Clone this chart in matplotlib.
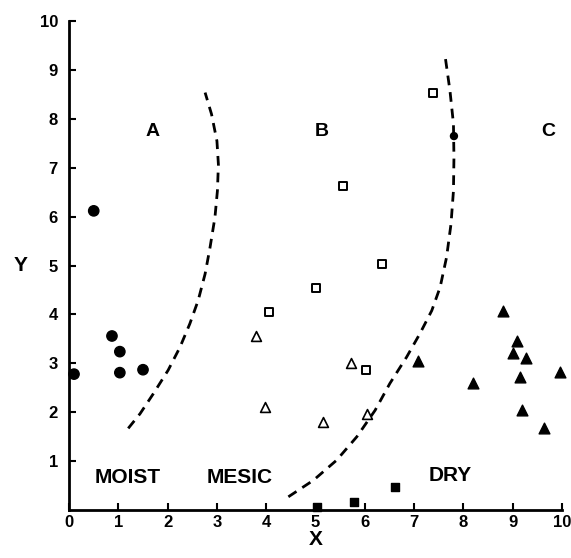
import numpy as np
import matplotlib.pyplot as plt

plt.rcParams['font.family'] = ['Liberation Sans', 'DejaVu Sans']
plt.rcParams['font.weight'] = 'bold'

# moist sites (filled circles)
moist_x = [0.1, 0.5, 0.87, 1.03, 1.03, 1.5, 7.81]
moist_y = [2.78, 6.12, 3.56, 3.24, 2.81, 2.87, 7.65]
# open squares
osq_x = [7.39, 5.56, 6.36, 5.01, 4.06, 6.02]
osq_y = [8.54, 6.63, 5.03, 4.54, 4.05, 2.86]
# open triangles
otri_x = [3.79, 3.98, 5.72, 5.15, 6.05]
otri_y = [3.57, 2.11, 3.0, 1.80, 1.97]
# filled triangles
ftri_x = [7.09, 8.2, 8.8, 9.09, 9.01, 9.27, 9.16, 9.19, 9.64, 9.96]
ftri_y = [3.05, 2.6, 4.08, 3.46, 3.21, 3.11, 2.73, 2.05, 1.67, 2.82]
# filled squares
fsq_x = [5.04, 5.78, 6.61]
fsq_y = [0.07, 0.17, 0.48]

# boundary curves
bA_x = [1.2, 1.44, 1.71, 2.01, 2.25, 2.45, 2.62, 2.76, 2.86, 2.96, 3.01, 3.03, 3.0, 2.89, 2.76]
bA_y = [1.67, 1.97, 2.38, 2.86, 3.33, 3.81, 4.29, 4.83, 5.37, 5.99, 6.53, 7.07, 7.55, 8.10, 8.54]
bB_x = [4.45, 4.96, 5.43, 5.84, 6.21, 6.51, 6.85, 7.12, 7.36, 7.53, 7.66, 7.75, 7.8, 7.81, 7.8, 7.73, 7.63]
bB_y = [0.27, 0.61, 1.02, 1.50, 2.04, 2.59, 3.13, 3.61, 4.08, 4.56, 5.17, 5.85, 6.53, 7.21, 7.90, 8.57, 9.29]

fig = plt.figure(figsize=(5.71, 5.58), dpi=100)
ax = fig.add_axes([0.121, 0.086, 0.863, 0.876])

ax.plot(bA_x, bA_y, color='black', lw=2, ls=(0, (3.5, 2.5)))
ax.plot(bB_x, bB_y, color='black', lw=2, ls=(0, (3.5, 2.5)))

ax.scatter(moist_x, moist_y, s=[55, 55, 55, 55, 55, 55, 25], marker='o', color='black', zorder=3, clip_on=False)
ax.scatter(osq_x, osq_y, s=35, marker='s', facecolor='white', edgecolor='black', linewidth=1.4, zorder=3)
ax.scatter(otri_x, otri_y, s=50, marker='^', facecolor='white', edgecolor='black', linewidth=1.2, zorder=3)
ax.scatter(ftri_x, ftri_y, s=60, marker='^', color='black', zorder=3, clip_on=False)
ax.scatter(fsq_x, fsq_y, s=40, marker='s', color='black', zorder=3, clip_on=False)

ax.text(1.7, 7.75, 'A', fontsize=14, ha='center', va='center', fontweight='bold')
ax.text(5.13, 7.75, 'B', fontsize=14, ha='center', va='center', fontweight='bold')
ax.text(9.72, 7.75, 'C', fontsize=14, ha='center', va='center', fontweight='bold')
ax.text(1.18, 0.66, 'MOIST', fontsize=15, ha='center', va='center', fontweight='bold')
ax.text(3.47, 0.66, 'MESIC', fontsize=15, ha='center', va='center', fontweight='bold')
ax.text(7.73, 0.71, 'DRY', fontsize=15, ha='center', va='center', fontweight='bold')

ax.set_xlim(0, 10)
ax.set_ylim(0, 10)
ax.set_xticks(range(0, 11))
ax.set_yticks(range(1, 11))
ax.tick_params(direction='in', length=5, width=1.5, labelsize=12)
ax.tick_params(axis='y', pad=8)
for lbl in ax.get_xticklabels() + ax.get_yticklabels():
    lbl.set_fontweight('bold')
ax.spines['top'].set_visible(False)
ax.spines['right'].set_visible(False)
ax.spines['left'].set_linewidth(2)
ax.spines['bottom'].set_linewidth(2)

ax.set_xlabel('X', fontsize=15, fontweight='bold', labelpad=0)
ax.set_ylabel('Y', fontsize=15, fontweight='bold', rotation=0, labelpad=14, va='center')

fig.savefig('out.png', dpi=100)
